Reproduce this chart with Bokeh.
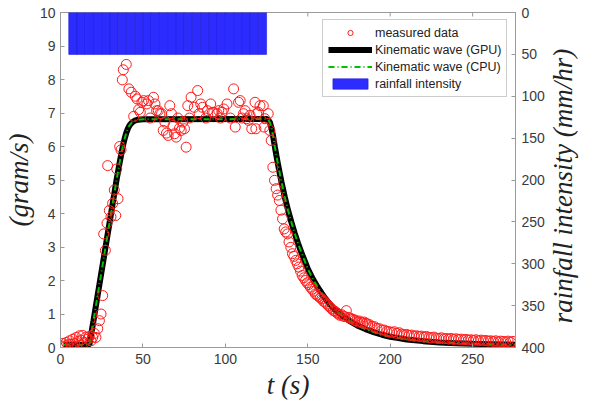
import math
from bokeh.plotting import figure
from bokeh.models import Range1d, LinearAxis, Legend, LegendItem, FixedTicker
from bokeh.embed import file_html
from bokeh.resources import INLINE

# measured outflow (time in s, discharge in gram/s)
t_meas = [0.5, 1.5, 2.5, 3.5, 4.5, 5.5, 6.5, 7.5, 8.5, 9.5, 10.5, 11.5, 12.5, 13.5, 14.5,
          15.5, 16.5, 17.5, 18.5, 19.5, 20.5, 21.5,
          22.6, 23.6, 24.6, 25.6, 26.2, 27.2, 28.2, 28.6, 29.6, 30.6, 31.6, 32.6, 33.5, 34.1,
          34.9, 35.9, 36.7, 37.5, 38.1, 39.9, 41.5, 42.9, 44.4, 45.4, 46.4, 47.4, 48.4, 49.4,
          50.4, 52.4, 53.4, 54.4, 56.4, 57.3, 58.3, 59.3, 60.3, 61.3, 62.3, 63.3, 64.3, 65.3,
          66.3, 67.3, 68.3, 69.2, 70.2, 71.2, 72.2, 73.2, 74.2, 75.2, 76.2, 77.2, 78.2, 79.2,
          81.2, 83.2, 84.1, 85.1, 86.1, 88.1, 89.1, 91.1, 92.1, 93.0, 95.1, 96.0, 97.0, 98.0,
          99.0, 101.0, 103.0, 105.0, 106.0, 108.0, 109.0, 110.0, 111.0, 112.0, 113.0, 114.0,
          115.0, 116.0, 118.0, 118.5, 119.0, 120.0, 121.0, 123.0, 123.5, 124.0, 126.0, 127.0,
          127.8, 128.8, 129.8, 130.8, 131.7, 132.7, 133.7, 134.7, 135.7, 136.6, 137.7, 138.6,
          139.7, 140.7, 141.6, 142.7, 143.6, 144.6, 145.6, 146.6, 147.6, 148.6, 149.6, 150.6,
          151.6, 152.6, 153.6, 154.6, 155.6, 156.6, 157.6, 158.5, 159.5, 160.5, 161.5, 162.5,
          163.5, 164.5, 165.5, 166.5, 167.5, 168.5, 169.5, 170.5, 171.5, 172.5, 173.4, 174.4,
          175.4, 176.4, 177.4, 178.4, 179.4, 180.4, 181.4, 182.4, 183.3, 184.3, 185.3, 186.3,
          187.5, 189.0, 190.5, 192.0, 193.5, 195.0, 196.5, 198.0, 199.5, 201.0, 202.5, 204.0,
          205.5, 207.0, 208.5, 210.0, 211.5, 213.0, 214.5, 216.0, 217.5, 219.0, 220.5, 222.0,
          223.5, 225.0, 226.5, 228.0, 229.5, 231.0, 232.5, 234.0, 235.5, 237.0, 238.5, 240.0,
          241.5, 243.0, 244.5, 246.0, 247.5, 249.0, 250.5, 252.0, 253.5, 255.0, 256.5, 258.0,
          259.5, 261.0, 262.5, 264.0, 265.5, 267.0, 268.5, 270.0, 271.5, 273.0, 274.5]
q_meas = [0.05, 0.12, 0.02, 0.15, 0.08, 0.20, 0.10, 0.25, 0.12, 0.30, 0.18, 0.35, 0.22, 0.36, 0.15,
          0.31, 0.25, 0.33, 0.20, 0.30, 0.42, 0.30,
          0.56, 0.80, 1.00, 1.55, 3.39, 2.90, 3.71, 5.43, 4.09, 3.90, 4.30, 4.70, 3.94, 5.33,
          4.44, 6.00, 5.90, 7.99, 8.29, 8.45, 7.72, 7.62, 6.90, 7.50, 7.42, 7.10, 7.02, 7.32,
          7.37, 7.27, 7.37, 6.85, 7.47, 7.27, 7.07, 7.07, 6.98, 6.98, 6.48, 6.73, 6.40, 6.33,
          7.22, 6.98, 6.63, 6.38, 6.28, 6.85, 6.55, 6.48, 6.73, 6.53, 5.98, 7.22, 6.85, 7.47,
          7.17, 7.67, 6.98, 7.27, 7.17, 6.85, 7.07, 7.27, 7.02, 7.02, 6.98, 7.07, 6.85, 7.02,
          7.12, 7.27, 6.85, 7.72, 6.58, 7.32, 7.37, 6.85, 6.98, 7.07, 6.83, 6.78, 6.93, 6.53,
          7.32, 6.53, 6.98, 7.02, 7.22, 7.22, 6.58, 6.83, 6.98, 6.48,
          6.18, 5.38, 4.99, 4.74, 4.55, 4.39, 4.10, 3.84, 3.54, 3.45, 3.39, 3.15,
          2.99, 2.80, 2.72, 2.60, 2.50, 2.40, 2.28, 2.15, 2.08, 2.00, 1.93, 1.88,
          1.80, 1.74, 1.68, 1.60, 1.56, 1.52, 1.48, 1.45, 1.38, 1.35, 1.30, 1.25,
          1.20, 1.15, 1.10, 1.08, 1.04, 1.00, 0.96, 0.98, 0.94, 0.92, 1.10, 0.90,
          0.88, 0.86, 0.84, 0.82, 0.80, 0.76, 0.79, 0.75, 0.73, 0.76, 0.72, 0.70,
          0.68, 0.63, 0.62, 0.57, 0.56, 0.52, 0.52, 0.48, 0.47, 0.45, 0.47, 0.42,
          0.44, 0.40, 0.38, 0.39, 0.36, 0.37, 0.34, 0.35, 0.33, 0.34, 0.31, 0.33,
          0.30, 0.29, 0.31, 0.28, 0.27, 0.29, 0.26, 0.27, 0.25, 0.27, 0.24, 0.26,
          0.24, 0.25, 0.23, 0.24, 0.22, 0.23, 0.21, 0.23, 0.20, 0.22, 0.20, 0.21,
          0.19, 0.20, 0.18, 0.20, 0.17, 0.19, 0.18, 0.17, 0.19, 0.16, 0.18]

# kinematic wave model hydrograph
t_model = [2, 17.5, 20, 22, 24, 26, 28, 30, 32, 34, 36, 37, 38, 39, 40, 41, 42, 43, 44, 45,
           47, 50, 125, 126, 127, 128, 129, 130, 131, 132, 133, 134, 136, 138, 140, 142, 144,
           146, 148, 150, 153, 156, 160, 165, 170, 175, 180, 185, 190, 195, 200, 205, 210,
           220, 230, 240, 250, 260, 270, 276]
q_model = [0.08, 0.08, 0.80, 1.40, 2.00, 2.60, 3.20, 3.80, 4.40, 5.00, 5.55, 5.80, 6.05, 6.25,
           6.42, 6.55, 6.64, 6.70, 6.74, 6.77, 6.80, 6.81, 6.82, 6.80, 6.72, 6.55, 6.30, 6.00,
           5.72, 5.45, 5.20, 4.95, 4.50, 4.10, 3.75, 3.42, 3.12, 2.85, 2.60, 2.35, 2.05, 1.80,
           1.50, 1.20, 0.98, 0.80, 0.66, 0.55, 0.46, 0.38, 0.32, 0.28, 0.24, 0.19, 0.15, 0.13,
           0.11, 0.10, 0.09, 0.085]

# rainfall intensity (mm/hr), 5 s blocks
t_rain = [7.5, 12.5, 17.5, 22.5, 27.5, 32.5, 37.5, 42.5, 47.5, 52.5, 57.5, 62.5,
          67.5, 72.5, 77.5, 82.5, 87.5, 92.5, 97.5, 102.5, 107.5, 112.5, 117.5, 122.5]
rain = [50, 50, 50, 50, 50, 50, 50, 50, 50, 50, 50, 50,
        50, 50, 50, 50, 50, 50, 50, 50, 50, 50, 50, 50]

x_ticks = [0, 50, 100, 150, 200, 250]
y_ticks = [0, 1, 2, 3, 4, 5, 6, 7, 8, 9, 10]
rain_ticks = [0, 50, 100, 150, 200, 250, 300, 350, 400]
x_max = 276
y_max = 10
rain_max = 400

RAIN_TITLE = "rainfall intensity (mm/hr)"
rain_title_start = 371  # where the rotated right-hand title begins, in mm/hr

AXIS_COLOR = "#9a9a9a"
TICK_TEXT = "#3a3a3a"
LABEL_COLOR = "#222222"
SANS = "Liberation Sans"
SERIF = "Liberation Serif"
LABEL_SIZE = "27px"

p = figure(width=596, height=403, output_backend="svg", toolbar_location=None,
           x_range=Range1d(0, x_max), y_range=Range1d(0, y_max),
           min_border_left=57, min_border_right=75, min_border_top=12, min_border_bottom=56)
p.extra_y_ranges = {"rain": Range1d(start=rain_max, end=0)}
p.xgrid.visible = False
p.ygrid.visible = False
p.outline_line_color = AXIS_COLOR
p.background_fill_color = "white"


def style_axis(ax, ticks, size="14px"):
    ax.ticker = FixedTicker(ticks=ticks)
    ax.axis_line_color = AXIS_COLOR
    ax.major_tick_line_color = AXIS_COLOR
    ax.major_tick_in = 4
    ax.major_tick_out = 0
    ax.minor_tick_line_color = None
    ax.major_label_text_font = SANS
    ax.major_label_text_font_size = size
    ax.major_label_text_color = TICK_TEXT
    ax.axis_label_text_font = SERIF
    ax.axis_label_text_font_style = "italic"
    ax.axis_label_text_font_size = LABEL_SIZE
    ax.axis_label_text_color = LABEL_COLOR


style_axis(p.xaxis[0], x_ticks)
p.xaxis[0].axis_label = "t (s)"
p.xaxis[0].major_label_standoff = 6
p.xaxis[0].axis_label_standoff = 3

style_axis(p.yaxis[0], y_ticks)
p.yaxis[0].axis_label = "(gram/s)"
p.yaxis[0].major_label_standoff = 5
p.yaxis[0].axis_label_standoff = 3

right = LinearAxis(y_range_name="rain")
style_axis(right, rain_ticks)
right.major_label_standoff = 6
p.add_layout(right, "right")

# right-hand title, rotated to read bottom to top: carried as the single,
# unmarked tick label of an extra axis so that its start can be placed
right_title = LinearAxis(y_range_name="rain")
right_title.ticker = FixedTicker(ticks=[rain_title_start])
right_title.major_label_overrides = {rain_title_start: RAIN_TITLE}
right_title.major_label_orientation = math.pi / 2
right_title.major_label_standoff = 10
right_title.axis_line_color = None
right_title.major_tick_line_color = None
right_title.minor_tick_line_color = None
right_title.major_label_text_font = SERIF
right_title.major_label_text_font_style = "italic"
right_title.major_label_text_font_size = LABEL_SIZE
right_title.major_label_text_color = LABEL_COLOR
p.add_layout(right_title, "right")

# inward tick marks along the top edge of the box
p.ray(x=x_ticks, y=[y_max] * len(x_ticks), length=4, length_units="screen",
      angle=-math.pi / 2, line_color=AXIS_COLOR, line_width=1)

bars = p.vbar(x=t_rain, width=5, top=0, bottom=rain, y_range_name="rain",
              fill_color="#2c2cff", line_color="#1c1cd8", line_width=0.6)
gpu = p.line(t_model, q_model, line_color="black", line_width=6)
cpu = p.line(t_model, q_model, line_color="#00c000", line_width=2, line_dash="6 3 1 3")
meas = p.scatter(t_meas, q_meas, marker="circle", size=10, fill_color=None,
                 line_color="#ff1a1a", line_width=1)

legend = Legend(items=[
    LegendItem(label="measured data", renderers=[meas]),
    LegendItem(label="Kinematic wave (GPU)", renderers=[gpu]),
    LegendItem(label="Kinematic wave (CPU)", renderers=[cpu]),
    LegendItem(label="rainfall intensity", renderers=[bars]),
], location=(262, 250))
legend.label_text_font = SANS
legend.label_text_font_size = "12.5px"
legend.label_text_color = LABEL_COLOR
legend.glyph_width = 44
legend.glyph_height = 13
legend.label_height = 15
legend.label_standoff = 3
legend.spacing = 2
legend.padding = 5
legend.margin = 0
legend.border_line_color = AXIS_COLOR
legend.border_line_width = 1
legend.background_fill_alpha = 1
p.add_layout(legend, "center")

open("out.html", "w").write(file_html(p, INLINE))
